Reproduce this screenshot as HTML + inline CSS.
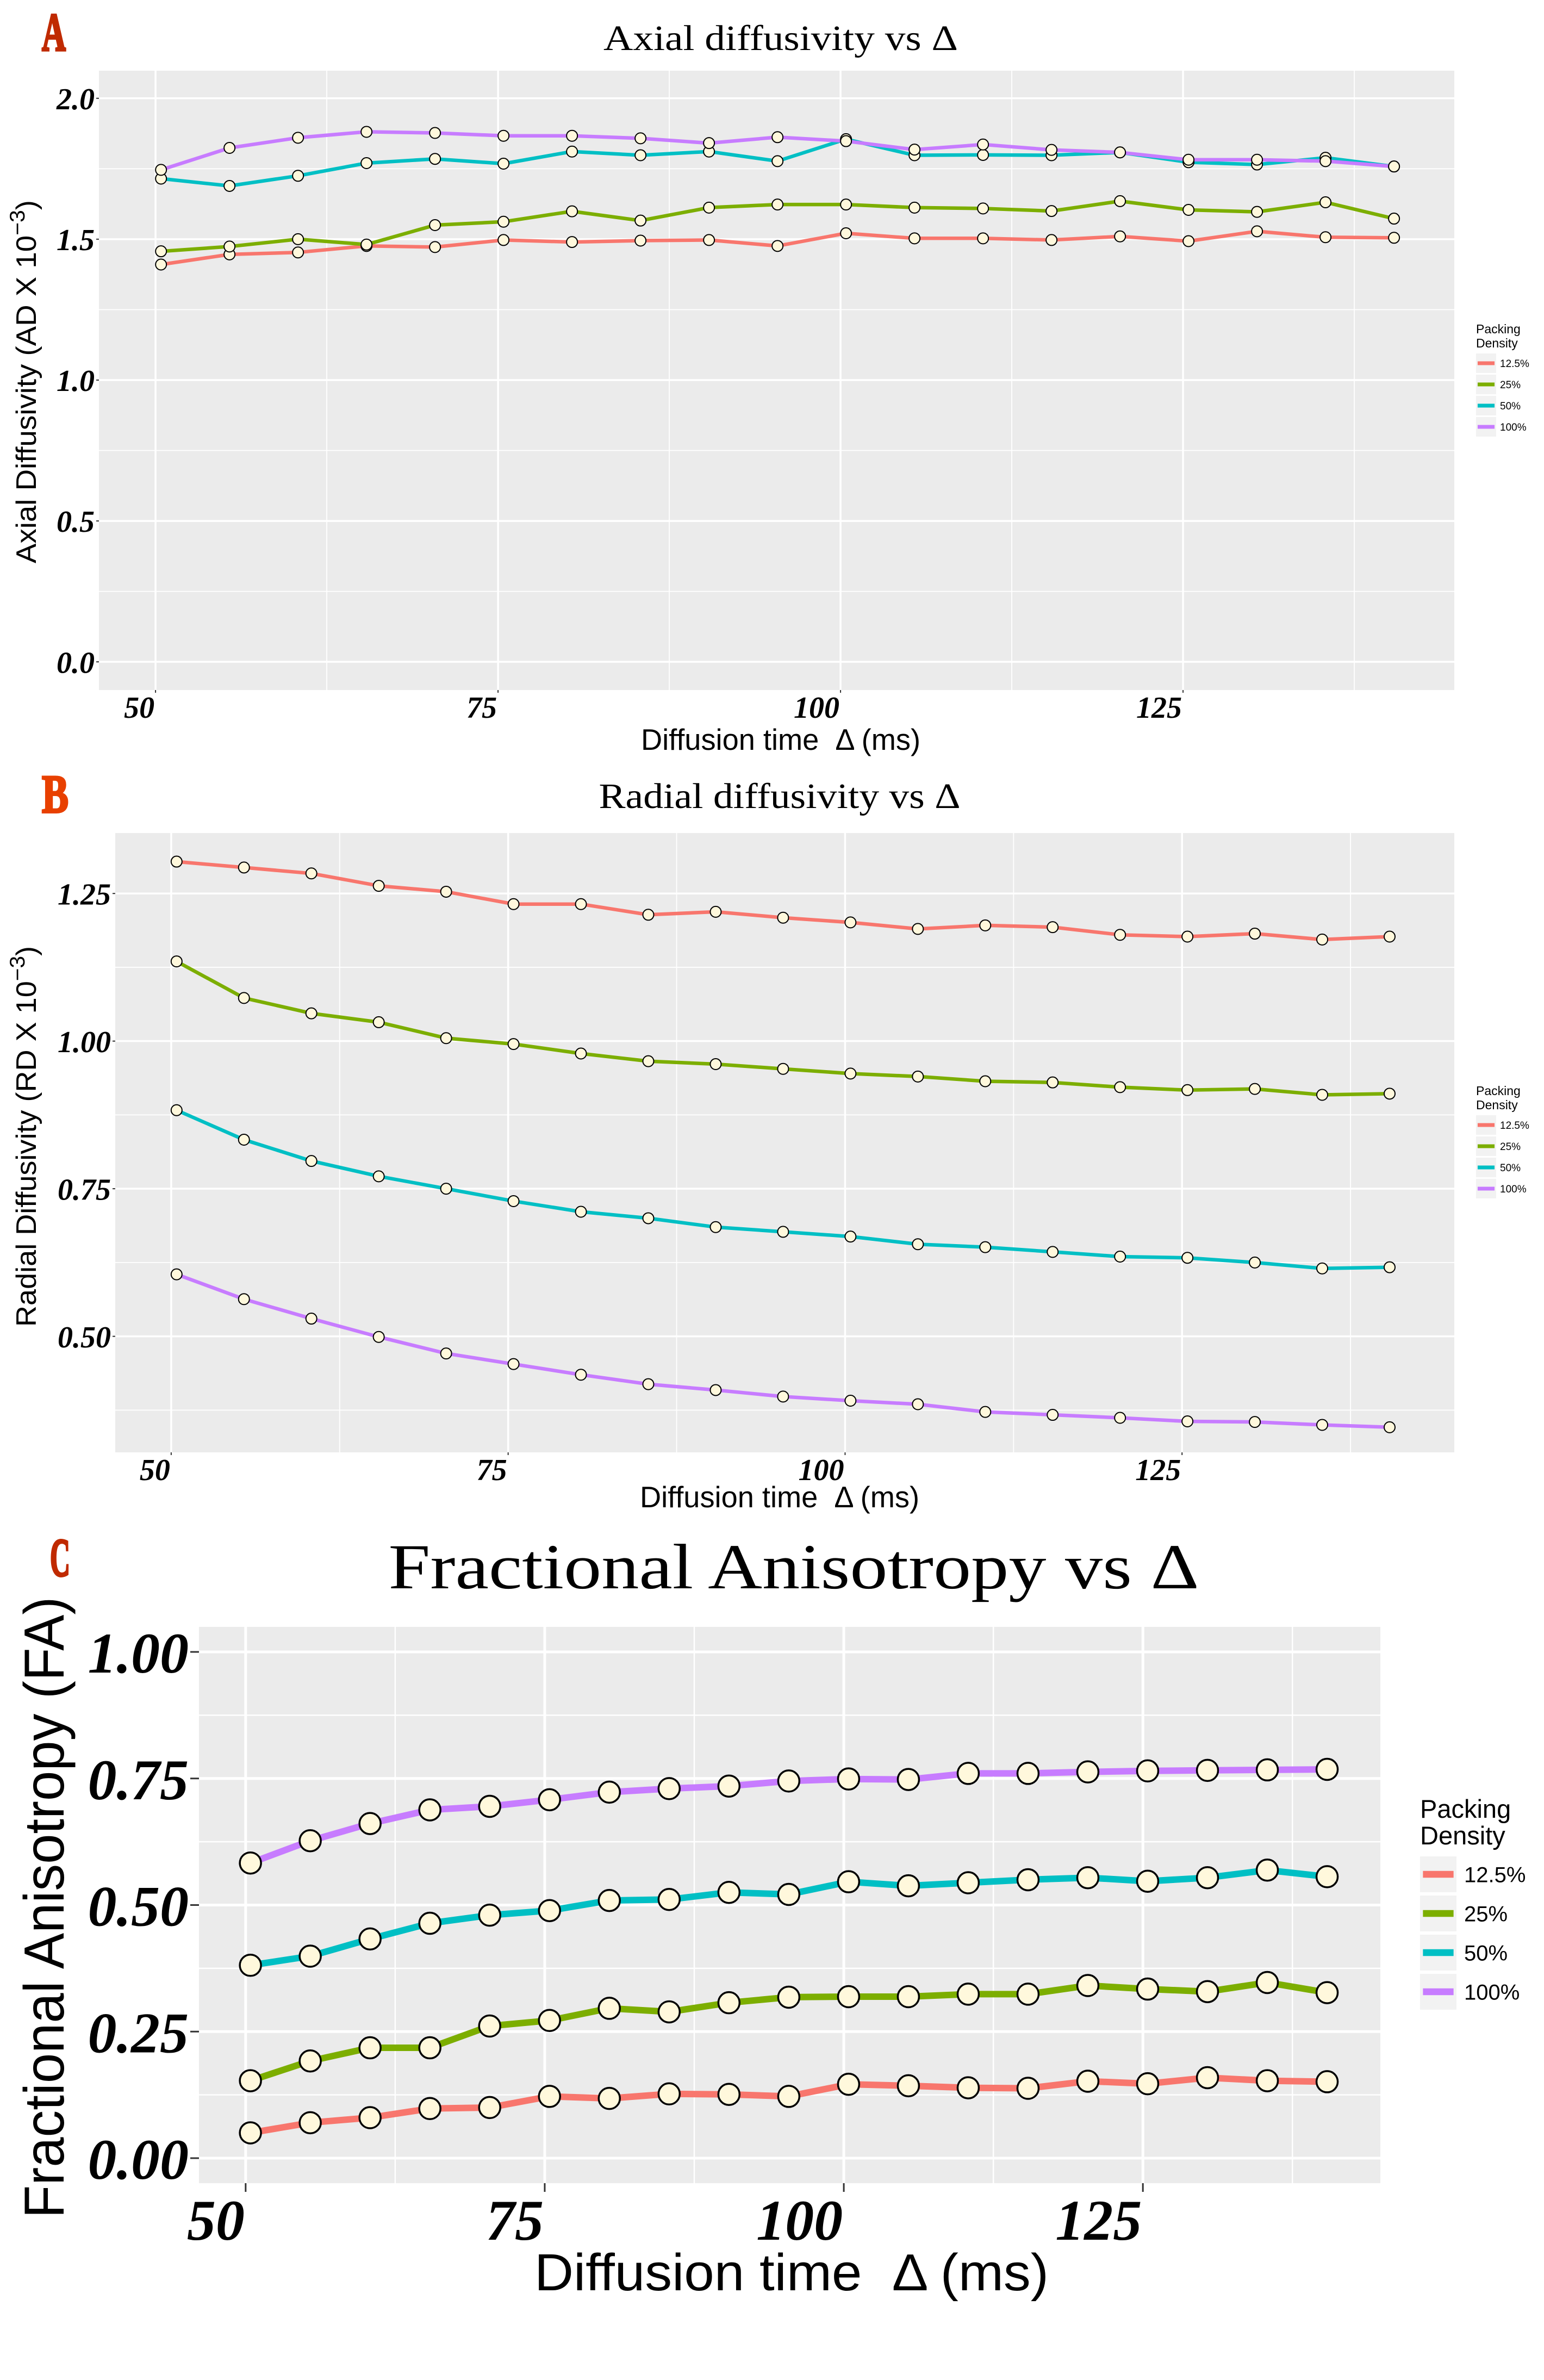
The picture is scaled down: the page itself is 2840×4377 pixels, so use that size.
<!DOCTYPE html>
<html><head><meta charset="utf-8"><style>
html,body{margin:0;padding:0;background:#fff;}
svg{display:block;}
</style></head><body>
<svg id="fig" xmlns="http://www.w3.org/2000/svg" width="2840" height="4377" viewBox="0 0 2840 4377"></svg>
<script>
// ---- shared data ----
const diffusionTimes = [50.4,55.4,60.4,65.4,70.4,75.4,80.4,85.4,90.4,95.4,100.4,105.4,110.4,115.4,120.4,125.4,130.4,135.4,140.4];
const densityLabels = ['12.5%','25%','50%','100%'];
const xTickValues = [50,75,100,125];
const xTickLabels = ['50','75','100','125'];

// Panel A: axial diffusivity
const adRed    = [1.410,1.446,1.453,1.476,1.472,1.497,1.490,1.495,1.497,1.476,1.521,1.503,1.503,1.497,1.510,1.493,1.528,1.507,1.505];
const adGreen  = [1.457,1.474,1.500,1.481,1.550,1.562,1.599,1.566,1.612,1.623,1.623,1.612,1.609,1.600,1.635,1.604,1.597,1.631,1.573];
const adCyan   = [1.715,1.689,1.725,1.770,1.785,1.768,1.811,1.798,1.811,1.777,1.855,1.798,1.799,1.798,1.808,1.773,1.765,1.789,1.758];
const adPurple = [1.746,1.824,1.860,1.881,1.877,1.867,1.867,1.858,1.841,1.862,1.848,1.818,1.836,1.817,1.808,1.782,1.782,1.777,1.758];
const adTickValues = [0,0.5,1.0,1.5,2.0];
const adTickLabels = ['0.0','0.5','1.0','1.5','2.0'];

// Panel B: radial diffusivity
const rdRed    = [1.304,1.294,1.284,1.263,1.253,1.232,1.232,1.214,1.219,1.209,1.201,1.190,1.196,1.193,1.180,1.177,1.182,1.172,1.177];
const rdGreen  = [1.135,1.073,1.047,1.032,1.005,0.995,0.979,0.966,0.961,0.953,0.945,0.940,0.932,0.930,0.922,0.917,0.919,0.909,0.911];
const rdCyan   = [0.883,0.833,0.797,0.771,0.750,0.729,0.711,0.700,0.685,0.677,0.669,0.656,0.651,0.643,0.635,0.633,0.625,0.615,0.617];
const rdPurple = [0.605,0.563,0.530,0.499,0.471,0.453,0.435,0.419,0.409,0.398,0.391,0.385,0.372,0.367,0.362,0.356,0.355,0.350,0.346];
const rdTickValues = [0.5,0.75,1.0,1.25];
const rdTickLabels = ['0.50','0.75','1.00','1.25'];

// Panel C: fractional anisotropy
const faRed    = [0.050,0.070,0.080,0.098,0.100,0.122,0.118,0.127,0.126,0.122,0.146,0.143,0.139,0.138,0.152,0.147,0.159,0.153,0.151];
const faGreen  = [0.153,0.192,0.218,0.218,0.261,0.272,0.296,0.289,0.307,0.318,0.319,0.319,0.324,0.324,0.341,0.334,0.329,0.347,0.327];
const faCyan   = [0.381,0.399,0.433,0.464,0.480,0.489,0.509,0.511,0.525,0.521,0.546,0.538,0.544,0.550,0.554,0.547,0.554,0.569,0.556];
const faPurple = [0.583,0.627,0.661,0.688,0.695,0.708,0.723,0.730,0.735,0.745,0.749,0.748,0.760,0.760,0.763,0.765,0.766,0.767,0.768];
const faTickValues = [0,0.25,0.5,0.75,1.0];
const faTickLabels = ['0.00','0.25','0.50','0.75','1.00'];

const COLORS = ['#F8766D','#7CAE00','#00BFC4','#C77CFF'];
const NS = 'http://www.w3.org/2000/svg';
const svg = document.getElementById('fig');

function mk(tag, attrs, parent){
  const e = document.createElementNS(NS, tag);
  for (const k in attrs) e.setAttribute(k, attrs[k]);
  (parent||svg).appendChild(e);
  return e;
}

function drawPanel(c, series, yTicks, yLabels){
  const g = mk('g', {});
  
  
  const sx = v => c.left + (v - c.xmin) / (c.xmax - c.xmin) * (c.right - c.left);
  const sy = v => c.bottom - (v - c.ymin) / (c.ymax - c.ymin) * (c.bottom - c.top);

  const L = mk('text', {x:c.letterX, y:c.letterY, 'font-family':'Liberation Serif, serif', 'font-weight':'bold', 'font-size':c.letterFs, fill:c.letterColor, stroke:c.letterColor, 'stroke-width':4, textLength:c.letterW, lengthAdjust:'spacingAndGlyphs'}, g);
  L.textContent = c.letter;
  
  

  const T = mk('text', {x:c.titleX, y:c.titleY, 'text-anchor':'middle', 'font-family':'Liberation Serif, serif', 'font-size':c.titleFs, fill:'#000', textLength:c.titleW, lengthAdjust:'spacingAndGlyphs'}, g);
  T.textContent = c.title;
  
  

  const bg = mk('rect', {x:c.left, y:c.top, width:c.right-c.left, height:c.bottom-c.top, fill:'#EBEBEB'}, g);
  
  

  for (let i=0;i<xTickValues.length;i++){
    const mv = xTickValues[i]+12.5;
    if (mv>c.xmin && mv<c.xmax){
      const ln = mk('line', {x1:sx(mv), x2:sx(mv), y1:c.top, y2:c.bottom, stroke:'#fff', 'stroke-width':c.minorW}, g);
      
      
    }
  }
  const ystep = yTicks[1]-yTicks[0];
  for (let i=-1;i<yTicks.length;i++){
    const mv = (i<0? yTicks[0]-ystep/2 : yTicks[i]+ystep/2);
    if (mv>c.ymin && mv<c.ymax){
      const ln = mk('line', {x1:c.left, x2:c.right, y1:sy(mv), y2:sy(mv), stroke:'#fff', 'stroke-width':c.minorW}, g);
      
      
    }
  }
  for (let i=0;i<xTickValues.length;i++){
    const X = sx(xTickValues[i]);
    const ln = mk('line', {x1:X, x2:X, y1:c.top, y2:c.bottom, stroke:'#fff', 'stroke-width':c.majorW}, g);
    
    
    const tk = mk('line', {x1:X, x2:X, y1:c.bottom, y2:c.bottom+c.tickLen, stroke:'#333', 'stroke-width':c.tickW}, g);
    
    
    const tx = mk('text', {x:X-2, y:c.bottom+c.xLabOff, 'text-anchor':'end', 'font-family':'Liberation Serif, serif', 'font-weight':'bold', 'font-style':'italic', 'font-size':c.tickFs, fill:'#000'}, g);
    tx.textContent = xTickLabels[i];
    
    
  }
  for (let i=0;i<yTicks.length;i++){
    const Y = sy(yTicks[i]);
    const ln = mk('line', {x1:c.left, x2:c.right, y1:Y, y2:Y, stroke:'#fff', 'stroke-width':c.majorW}, g);
    
    
    const tk = mk('line', {x1:c.left-c.tickLen, x2:c.left, y1:Y, y2:Y, stroke:'#333', 'stroke-width':c.tickW}, g);
    
    
    const tx = mk('text', {x:c.left-c.tickLen-3, y:Y+c.tickFs*0.36, 'text-anchor':'end', 'font-family':'Liberation Serif, serif', 'font-weight':'bold', 'font-style':'italic', 'font-size':c.tickFs, fill:'#000'}, g);
    tx.textContent = yLabels[i];
    
    
  }

  for (let s=0;s<series.length;s++){
    const pts = diffusionTimes.map((t,i)=> sx(t).toFixed(1)+','+sy(series[s][i]).toFixed(1)).join(' ');
    const pl = mk('polyline', {points:pts, fill:'none', stroke:COLORS[s], 'stroke-width':c.lineW, 'stroke-linejoin':'round'}, g);
    
    
  }
  for (let s=0;s<series.length;s++){
    for (let i=0;i<diffusionTimes.length;i++){
      const cp = mk('circle', {cx:sx(diffusionTimes[i]), cy:sy(series[s][i]), r:c.ptR, fill:'#FFF8DC', stroke:'#000', 'stroke-width':c.ptSW}, g);
      
      
    }
  }

  const xt = mk('text', {x:c.xTitleX, y:c.xTitleY, 'text-anchor':'middle', 'font-family':'Liberation Sans, sans-serif', 'font-size':c.axFs, fill:'#000', textLength:c.xTitleW, lengthAdjust:'spacingAndGlyphs'}, g);
  xt.textContent = 'Diffusion time\u00a0\u00a0\u0394 (ms)';
  
  

  const yt = mk('text', {x:0, y:0, 'text-anchor':'middle', 'font-family':'Liberation Sans, sans-serif', 'font-size':c.yAxFs, fill:'#000', textLength:c.yTitleW, lengthAdjust:'spacingAndGlyphs', transform:'translate('+c.yTitleX+','+c.yTitleY+') rotate(-90)'}, g);
  
  
  if (c.yTitleSup){
    const t1 = mk('tspan', {}, yt); t1.textContent = c.yTitle;
    const t2 = mk('tspan', {dy:-c.yAxFs*0.4, 'font-size':c.yAxFs*0.75}, yt); t2.textContent = '\u22123';
    const t3 = mk('tspan', {dy:c.yAxFs*0.4}, yt); t3.textContent = ')';
  } else {
    yt.textContent = c.yTitle;
  }

  const lg = mk('g', {}, g);
  
  
  const lt1 = mk('text', {x:c.lgX, y:c.lgTitleY1, 'font-family':'Liberation Sans, sans-serif', 'font-size':c.lgTitleFs, fill:'#000'}, lg);
  lt1.textContent = 'Packing';
  
  
  const lt2 = mk('text', {x:c.lgX, y:c.lgTitleY2, 'font-family':'Liberation Sans, sans-serif', 'font-size':c.lgTitleFs, fill:'#000'}, lg);
  lt2.textContent = 'Density';
  
  
  for (let s=0;s<densityLabels.length;s++){
    const ry = c.lgKeyY + s*c.lgStep;
    const kb = mk('rect', {x:c.lgX, y:ry, width:c.lgKeyW, height:c.lgKeyH, fill:'#F2F2F2'}, lg);
    
    
    const kl = mk('line', {x1:c.lgX+c.lgKeyW*0.08, x2:c.lgX+c.lgKeyW*0.92, y1:ry+c.lgKeyH/2, y2:ry+c.lgKeyH/2, stroke:COLORS[s], 'stroke-width':c.lgLineW}, lg);
    
    
    const tl = mk('text', {x:c.lgX+c.lgKeyW+c.lgLabGap, y:ry+c.lgKeyH/2+c.lgFs*0.36, 'font-family':'Liberation Sans, sans-serif', 'font-size':c.lgFs, fill:'#000'}, lg);
    tl.textContent = densityLabels[s];
    
    
  }
}

const cfgA = {id:'axial', left:182, right:2675, top:130, bottom:1269, xmin:45.87, xmax:144.8, ymin:-0.1, ymax:2.098,
  letter:'A', letterX:77, letterY:93, letterFs:100, letterW:44, letterColor:'#C02A00',
  title:'Axial diffusivity vs \u0394', titleX:1436, titleY:92, titleFs:66, titleW:652,
  majorW:3.5, minorW:1.8, tickLen:5, tickW:2, tickFs:56, xLabOff:51,
  lineW:6.5, ptR:10, ptSW:2,
  axFs:55, xTitleX:1436, xTitleY:1379, xTitleW:514,
  yAxFs:52, yTitle:'Axial Diffusivity (AD X 10', yTitleSup:true, yTitleX:66, yTitleY:702, yTitleW:668,
  lgX:2715, lgTitleY1:613, lgTitleY2:639, lgTitleFs:23, lgKeyY:650, lgStep:39, lgKeyW:37, lgKeyH:36, lgLineW:7, lgFs:19, lgLabGap:7};
const cfgB = {id:'radial', left:212, right:2675, top:1532, bottom:2671, xmin:45.85, xmax:145.2, ymin:0.3035, ymax:1.3524,
  letter:'B', letterX:77, letterY:1494, letterFs:100, letterW:49, letterColor:'#E84000',
  title:'Radial diffusivity vs \u0394', titleX:1434, titleY:1486, titleFs:66, titleW:665,
  majorW:3.5, minorW:1.8, tickLen:5, tickW:2, tickFs:56, xLabOff:51,
  lineW:6.5, ptR:10, ptSW:2,
  axFs:55, xTitleX:1434, xTitleY:2772, xTitleW:514,
  yAxFs:52, yTitle:'Radial Diffusivity (RD X 10', yTitleSup:true, yTitleX:66, yTitleY:2090, yTitleW:700,
  lgX:2715, lgTitleY1:2014, lgTitleY2:2040, lgTitleFs:23, lgKeyY:2051, lgStep:39, lgKeyW:37, lgKeyH:36, lgLineW:7, lgFs:19, lgLabGap:7};
const cfgC = {id:'fa', left:366, right:2539, top:2992, bottom:4015, xmin:46.1, xmax:144.85, ymin:-0.0494, ymax:1.0494,
  letter:'C', letterX:92, letterY:2898, letterFs:100, letterW:37, letterColor:'#C02A00',
  title:'Fractional Anisotropy vs \u0394', titleX:1460, titleY:2921, titleFs:118, titleW:1491,
  majorW:5, minorW:2.5, tickLen:16, tickW:3, tickFs:106, xLabOff:104,
  lineW:12, ptR:19.5, ptSW:3.5,
  axFs:96, xTitleX:1456, xTitleY:4212, xTitleW:946,
  yAxFs:104, yTitle:'Fractional Anisotropy (FA)', yTitleSup:false, yTitleX:117, yTitleY:3508, yTitleW:1143,
  lgX:2612, lgTitleY1:3343, lgTitleY2:3392, lgTitleFs:47, lgKeyY:3414, lgStep:72, lgKeyW:67, lgKeyH:66, lgLineW:12.5, lgFs:40, lgLabGap:14};

drawPanel(cfgA, [adRed, adGreen, adCyan, adPurple], adTickValues, adTickLabels);
drawPanel(cfgB, [rdRed, rdGreen, rdCyan, rdPurple], rdTickValues, rdTickLabels);
drawPanel(cfgC, [faRed, faGreen, faCyan, faPurple], faTickValues, faTickLabels);
</script>
</body></html>
